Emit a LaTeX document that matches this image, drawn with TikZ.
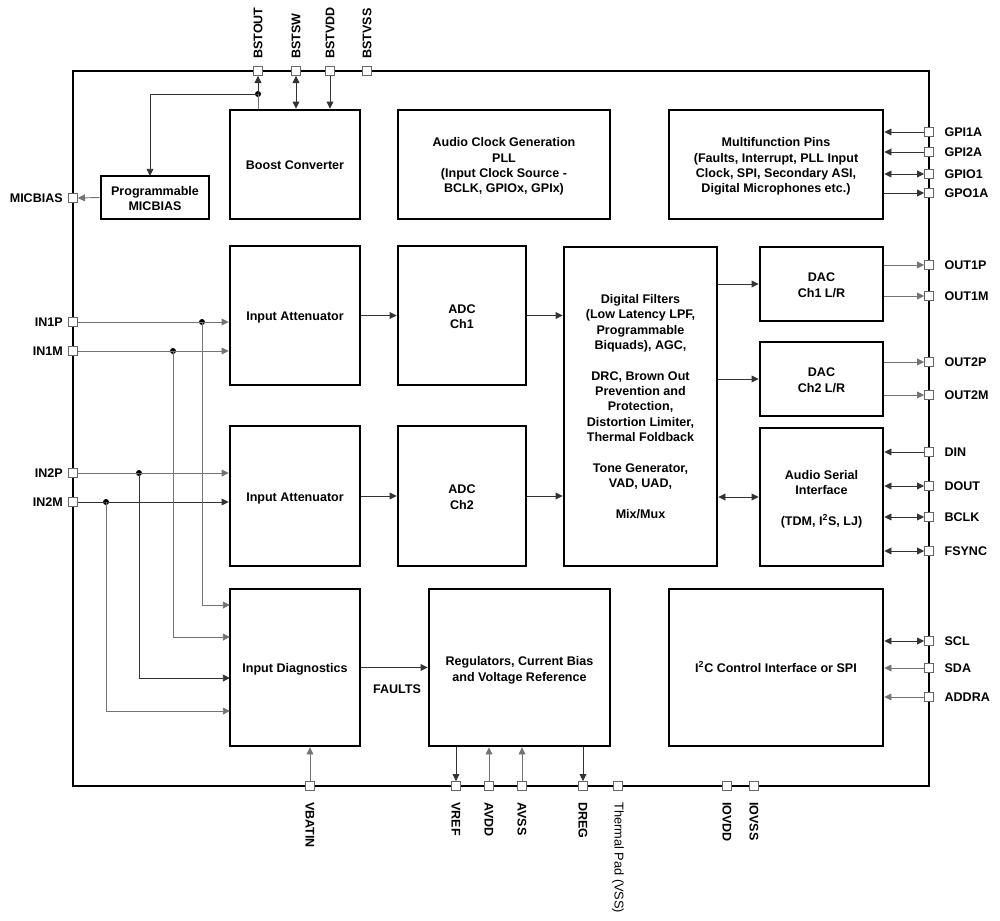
\documentclass[tikz,border=0pt]{standalone}
\usepackage{fontspec}
\setmainfont{Liberation Sans}
\usetikzlibrary{arrows.meta,fit}
\begin{document}
\begin{tikzpicture}[x=0.75pt,y=-0.75pt,
  box/.style={draw, line width=1.9pt, inner sep=0pt},
  btxt/.style={align=center, inner sep=0pt, font=\fontsize{9.4}{11.5}\selectfont\bfseries},
  pinsq/.style={draw=black!60, fill=white, line width=0.6pt, minimum size=6.6pt, inner sep=0pt},
  conn/.style={line width=0.7pt, draw=black!80},
  arr/.style={conn, -{Triangle[length=5.4pt,width=5.2pt]}},
  barr/.style={conn, {Triangle[length=5.4pt,width=5.2pt]}-{Triangle[length=5.4pt,width=5.2pt]}},
  lbl/.style={font=\fontsize{9.4}{11.25}\selectfont\bfseries, inner sep=0pt},
  dot/.style={circle, fill=black, inner sep=0pt, minimum size=4.5pt}]
\useasboundingbox (0,0) rectangle (1000,921);

% outer chip border
\node[draw, line width=1.6pt, inner sep=0pt, fit={(73,71) (929,786)}] (chip) {};

% blocks
\node[box, fit={(230,110) (360,219)}] (boost) {};
\node[box, fit={(398,110) (610,219)}] (clk) {};
\node[box, fit={(669,110) (883,219)}] (mfp) {};
\node[box, fit={(101,176) (209,219)}] (mic) {};
\node[box, fit={(230,246) (360,385)}] (ia1) {};
\node[box, fit={(398,246) (526,385)}] (adc1) {};
\node[box, fit={(564,247) (717,566)}] (df) {};
\node[box, fit={(760,247) (883,321)}] (dac1) {};
\node[box, fit={(760,342) (883,416)}] (dac2) {};
\node[box, fit={(760,428) (883,566)}] (asi) {};
\node[box, fit={(230,426) (360,566)}] (ia2) {};
\node[box, fit={(398,426) (526,566)}] (adc2) {};
\node[box, fit={(230,589) (360,746)}] (diag) {};
\node[box, fit={(429,589) (610,746)}] (reg) {};
\node[box, fit={(669,589) (883,746)}] (i2c) {};

% block texts
\node[btxt] (boostT) at ([yshift=-0.5pt]boost.center) {Boost Converter};
\node[btxt] (clkT) at ([yshift=-1.5pt]clk.center) {Audio Clock Generation\\PLL\\(Input Clock Source -\\BCLK, GPIOx, GPIx)};
\node[btxt] (mfpT) at ([yshift=-1.5pt]mfp.center) {Multifunction Pins\\(Faults, Interrupt, PLL Input\\Clock, SPI, Secondary ASI,\\Digital Microphones etc.)};
\node[btxt] (micT) at ([yshift=-1pt]mic.center) {Programmable\\MICBIAS};
\node[btxt] (ia1T) at ([yshift=-1.8pt]ia1.center) {Input Attenuator};
\node[btxt] (adc1T) at ([yshift=-1pt]adc1.center) {ADC\\Ch1};
\node[btxt] (dfT) at (df.center) {Digital Filters\\(Low Latency LPF,\\Programmable\\Biquads), AGC,\\[11.5pt]DRC, Brown Out\\Prevention and\\Protection,\\Distortion Limiter,\\Thermal Foldback\\[11.5pt]Tone Generator,\\VAD, UAD,\\[11.5pt]Mix/Mux};
\node[btxt] (dac1T) at ([yshift=-1pt]dac1.center) {DAC\\Ch1 L/R};
\node[btxt] (dac2T) at ([yshift=-1pt]dac2.center) {DAC\\Ch2 L/R};
\node[btxt] (asiT) at ([yshift=-1.8pt]asi.center) {Audio Serial\\Interface\\[11.5pt](TDM, I\textsuperscript{2}S, LJ)};
\node[btxt] (ia2T) at ([yshift=-1.5pt]ia2.center) {Input Attenuator};
\node[btxt] (adc2T) at ([yshift=-1pt]adc2.center) {ADC\\Ch2};
\node[btxt] (diagT) at ([yshift=-1pt]diag.center) {Input Diagnostics};
\node[btxt] (regT) at ([yshift=-2pt]reg.center) {Regulators, Current Bias\\and Voltage Reference};
\node[btxt] (i2cT) at ([yshift=0.5pt]i2c.center) {I\textsuperscript{2}C Control Interface or SPI};

% top pins
\node[pinsq] (bstout) at (258,71) {};
\node[pinsq] (bstsw) at (296,71) {};
\node[pinsq] (bstvdd) at (330,71) {};
\node[pinsq] (bstvss) at (367,71) {};
\node[lbl, rotate=90, anchor=west] at (258,59) {BSTOUT};
\node[lbl, rotate=90, anchor=west] at (296,59) {BSTSW};
\node[lbl, rotate=90, anchor=west] at (330,59) {BSTVDD};
\node[lbl, rotate=90, anchor=west] at (367,59) {BSTVSS};

% left pins
\node[pinsq] (micbias) at (73,198) {};
\node[pinsq] (in1p) at (73,322) {};
\node[pinsq] (in1m) at (73,351) {};
\node[pinsq] (in2p) at (73,473) {};
\node[pinsq] (in2m) at (73,502) {};
\node[lbl, anchor=east] at (63,198) {MICBIAS};
\node[lbl, anchor=east] at (63,322) {IN1P};
\node[lbl, anchor=east] at (63,351) {IN1M};
\node[lbl, anchor=east] at (63,473) {IN2P};
\node[lbl, anchor=east] at (63,502) {IN2M};

% right pins
\node[pinsq] (gpi1a) at (929,132) {};
\node[pinsq] (gpi2a) at (929,152) {};
\node[pinsq] (gpio1) at (929,174) {};
\node[pinsq] (gpo1a) at (929,193) {};
\node[pinsq] (out1p) at (929,265) {};
\node[pinsq] (out1m) at (929,296) {};
\node[pinsq] (out2p) at (929,362) {};
\node[pinsq] (out2m) at (929,395) {};
\node[pinsq] (din) at (929,452) {};
\node[pinsq] (dout) at (929,486) {};
\node[pinsq] (bclk) at (929,517) {};
\node[pinsq] (fsync) at (929,551) {};
\node[pinsq] (scl) at (929,641) {};
\node[pinsq] (sda) at (929,668) {};
\node[pinsq] (addra) at (929,697) {};
\foreach \n/\t in {gpi1a/GPI1A, gpi2a/GPI2A, gpio1/GPIO1, gpo1a/GPO1A, out1p/OUT1P, out1m/OUT1M, out2p/OUT2P, out2m/OUT2M, din/DIN, dout/DOUT, bclk/BCLK, fsync/FSYNC, scl/SCL, sda/SDA, addra/ADDRA}
  \node[lbl, anchor=west] at ([xshift=11.5pt]\n.center) {\t};

% bottom pins
\node[pinsq] (vbatin) at (310,786) {};
\node[pinsq] (vref) at (456,786) {};
\node[pinsq] (avdd) at (489,786) {};
\node[pinsq] (avss) at (522,786) {};
\node[pinsq] (dreg) at (583,786) {};
\node[pinsq] (tpad) at (618,786) {};
\node[pinsq] (iovdd) at (727,786) {};
\node[pinsq] (iovss) at (754,786) {};
\node[lbl, rotate=-90, anchor=west] at (310,802) {VBATIN};
\node[lbl, rotate=-90, anchor=west] at (456,802) {VREF};
\node[lbl, rotate=-90, anchor=west] at (489,802) {AVDD};
\node[lbl, rotate=-90, anchor=west] at (522,802) {AVSS};
\node[lbl, rotate=-90, anchor=west] at (583,802) {DREG};
\node[lbl, rotate=-90, anchor=west, font=\fontsize{9.6}{11.25}\selectfont] at (618,802) {Thermal Pad (VSS)};
\node[lbl, rotate=-90, anchor=west] at (727,802) {IOVDD};
\node[lbl, rotate=-90, anchor=west] at (754,802) {IOVSS};

% boost connections
\node[dot] (j1) at (258,94) {};
\draw[conn, draw=black!55] (boost.north -| j1) -- (j1.center);
\draw[arr] (j1.center) -- (bstout.south);
\coordinate (mtop) at (150,176);
\draw[arr] (j1.center) -| (mtop);
\draw[barr] (bstsw.south) -- (boost.north -| bstsw);
\draw[arr] (bstvdd.south) -- (boost.north -| bstvdd);
\draw[arr, draw=black!55] (mic.west) -- (micbias.east);

% multifunction pins
\draw[arr] (gpi1a.west) -- (mfp.east |- gpi1a);
\draw[arr] (gpi2a.west) -- (mfp.east |- gpi2a);
\draw[barr] (gpio1.west) -- (mfp.east |- gpio1);
\draw[arr] (mfp.east |- gpo1a) -- (gpo1a.west);

% analog inputs
\node[dot] (d1) at (202,322) {};
\node[dot] (d2) at (173,351) {};
\node[dot] (d3) at (139,473) {};
\node[dot] (d4) at (106,502) {};
\draw[arr, draw=black!55] (in1p.east) -- (ia1.west |- in1p);
\draw[arr, draw=black!55] (in1m.east) -- (ia1.west |- in1m);
\draw[arr, draw=black!55] (in2p.east) -- (ia2.west |- in2p);
\draw[arr] (in2m.east) -- (ia2.west |- in2m);
\coordinate (q1) at (230,605);
\coordinate (q2) at (230,637);
\coordinate (q3) at (230,678);
\coordinate (q4) at (230,711);
\draw[arr, draw=black!55] (d1.center) |- (q1);
\draw[arr, draw=black!55] (d2.center) |- (q2);
\draw[arr] (d3.center) |- (q3);
\draw[arr, draw=black!55] (d4.center) |- (q4);

% signal chain
\draw[arr] (ia1.east) -- (adc1.west);
\draw[arr] (ia2.east) -- (adc2.west);
\draw[arr] (adc1.east) -- (df.west |- adc1.east);
\draw[arr] (adc2.east) -- (df.west |- adc2.east);
\draw[arr] (df.east |- dac1.west) -- (dac1.west);
\draw[arr] (df.east |- dac2.west) -- (dac2.west);
\draw[barr] (df.east |- asi.west) -- (asi.west);

% DAC outputs
\draw[arr, draw=black!55] (dac1.east |- out1p) -- (out1p.west);
\draw[arr, draw=black!55] (dac1.east |- out1m) -- (out1m.west);
\draw[arr, draw=black!55] (dac2.east |- out2p) -- (out2p.west);
\draw[arr, draw=black!55] (dac2.east |- out2m) -- (out2m.west);

% ASI
\draw[arr] (din.west) -- (asi.east |- din);
\draw[barr] (dout.west) -- (asi.east |- dout);
\draw[barr] (bclk.west) -- (asi.east |- bclk);
\draw[barr] (fsync.west) -- (asi.east |- fsync);

% I2C
\draw[barr] (scl.west) -- (i2c.east |- scl);
\draw[arr, draw=black!55] (sda.west) -- (i2c.east |- sda);
\draw[arr, draw=black!55] (addra.west) -- (i2c.east |- addra);

% diagnostics and regulators
\draw[arr] (diag.east) -- (reg.west |- diag.east);
\node[lbl] (faults) at (397,689) {FAULTS};
\draw[arr, draw=black!55] (vbatin.north) -- (diag.south -| vbatin);
\draw[arr] (reg.south -| vref) -- (vref.north);
\draw[arr, draw=black!55] (avdd.north) -- (reg.south -| avdd);
\draw[arr, draw=black!55] (avss.north) -- (reg.south -| avss);
\draw[arr] (reg.south -| dreg) -- (dreg.north);
\end{tikzpicture}
\end{document}
